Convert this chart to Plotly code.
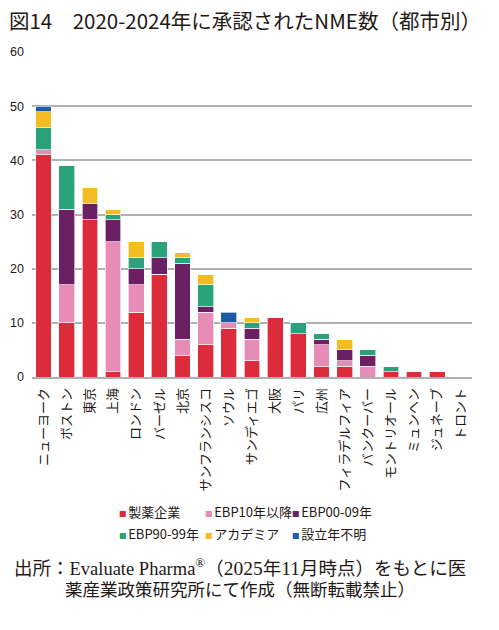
import plotly.graph_objects as go

cities = [
    "ニューヨーク", "ボストン", "東京", "上海", "ロンドン", "バーゼル", "北京",
    "サンフランシスコ", "ソウル", "サンディエゴ", "大阪", "パリ", "広州",
    "フィラデルフィア", "バンクーバー", "モントリオール", "ミュンヘン",
    "ジュネーブ", "トロント",
]

# counts per founder type, same order as cities
pharma = [41, 10, 29, 1, 12, 19, 4, 6, 9, 3, 11, 8, 2, 2, 0, 1, 1, 1, 0]
ebp10 = [1, 7, 0, 24, 5, 0, 3, 6, 1, 4, 0, 0, 4, 1, 2, 0, 0, 0, 0]
ebp00 = [0, 14, 3, 4, 3, 3, 14, 1, 0, 2, 0, 0, 1, 2, 2, 0, 0, 0, 0]
ebp90 = [4, 8, 0, 1, 2, 3, 1, 4, 0, 1, 0, 2, 1, 0, 1, 1, 0, 0, 0]
academia = [3, 0, 3, 1, 3, 0, 1, 2, 0, 1, 0, 0, 0, 2, 0, 0, 0, 0, 0]
unknown = [1, 0, 0, 0, 0, 0, 0, 0, 2, 0, 0, 0, 0, 0, 0, 0, 0, 0, 0]

names = ["製薬企業", "EBP10年以降", "EBP00-09年", "EBP90-99年", "アカデミア", "設立年不明"]
colors = ["#dc2b3b", "#e68cb6", "#6b2063", "#2aa37d", "#f5bb22", "#1f5aa6"]
values = [pharma, ebp10, ebp00, ebp90, academia, unknown]

jp = "Noto Sans CJK JP"
ink = "#231815"

fig = go.Figure()
for name, vals, color in zip(names, values, colors):
    fig.add_trace(go.Bar(
        x=cities, y=vals, name=name, showlegend=False,
        marker_color=color,
        marker_line_color="rgba(255,255,255,0.8)",
        marker_line_width=0.8,
    ))

fig.update_layout(
    width=491, height=622,
    margin=dict(l=24, r=27, t=44, b=253),
    paper_bgcolor="white", plot_bgcolor="white",
    barmode="stack", bargap=0.32,
    title=dict(
        text="図14　2020-2024年に承認されたNME数（都市別）",
        x=0.002, xanchor="left", y=0.977, yanchor="middle",
        font=dict(family=jp, size=20.5, color=ink),
    ),
    xaxis=dict(
        tickangle=-90, showline=True, linecolor="#b0b0b0", linewidth=1.5,
        ticks="", tickfont=dict(family=jp, size=13, color=ink),
        ticklabelstandoff=4, automargin=False,
    ),
    yaxis=dict(
        range=[0, 60], dtick=10, showgrid=True, gridcolor="#b0b0b0",
        gridwidth=1.5, zeroline=False, ticks="",
        tickfont=dict(family="Liberation Sans Narrow, Liberation Sans", size=12.5, color=ink),
        ticklabelstandoff=7, automargin=False,
    ),
)

# legend: 2 rows x 3 columns below the axis labels
leg_x = [0.193, 0.389, 0.586]
leg_y = [-0.415, -0.48]
for i, (name, color) in enumerate(zip(names, colors)):
    fig.add_annotation(
        text=f'<span style="color:{color};font-size:7.5px">■ </span>{name}',
        xref="paper", yref="paper", x=leg_x[i % 3], y=leg_y[i // 3],
        xanchor="left", yanchor="middle", align="left", showarrow=False,
        font=dict(family=jp, size=13, color=ink),
    )

src_font = dict(family="Liberation Serif, Noto Sans CJK JP", size=18.5, color=ink)
num = '<span style="font-size:19.5px">{}</span>'
fig.add_annotation(
    text="出所：Evaluate Pharma<sup>®</sup>（" + num.format("2025") + "年"
         + num.format("11") + "月時点）をもとに医",
    xref="paper", yref="paper", x=-0.0455, y=-0.585,
    xanchor="left", yanchor="middle", align="left", showarrow=False, font=src_font,
)
fig.add_annotation(
    text="薬産業政策研究所にて作成（無断転載禁止）",
    xref="paper", yref="paper", x=0.0705, y=-0.654,
    xanchor="left", yanchor="middle", align="left", showarrow=False,
    font=dict(src_font, size=17.5),
)

fig.write_html("out.html")
